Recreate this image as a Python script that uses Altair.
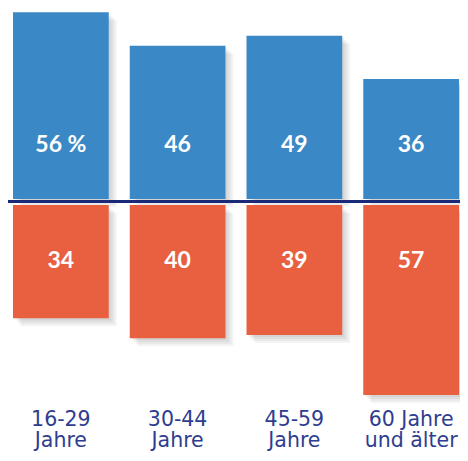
import altair as alt
import pandas as pd

categories = ["16-29\nJahre", "30-44\nJahre", "45-59\nJahre", "60 Jahre\nund älter"]
upper_values = [56, 46, 49, 36]
lower_values = [34, 40, 39, 57]

BLUE = "#3a89c6"
ORANGE = "#e8603f"
NAVY = "#1b2a78"
LABEL = "#2e3d8f"

rows = []
for i, (c, u, l) in enumerate(zip(categories, upper_values, lower_values)):
    rows.append({"cat": c, "grp": "upper", "value": u,
                 "label": f"{u} %" if i == 0 else f"{u}"})
    rows.append({"cat": c, "grp": "lower", "value": l, "label": f"{l}"})
df = pd.DataFrame(rows)
cat_df = pd.DataFrame({"cat": categories})

W, H = 452, 445
GAP = 1.8

base = alt.Chart(df).transform_calculate(
    y0=f"datum.grp == 'upper' ? 0 : -{GAP}",
    y1=f"datum.grp == 'upper' ? datum.value : -(datum.value + {GAP})",
    ty="datum.grp == 'upper' ? 16.2 : -18.6",
)

xenc = alt.X(
    "cat:N", sort=categories,
    scale=alt.Scale(paddingInner=0.18, paddingOuter=0.0257, align=0.833),
    axis=None,
)
yscale = alt.Scale(domain=[-76.2, 57.3], nice=False, zero=False)

layers = []
for k in [2, 4, 6, 8]:
    layers.append(
        base.mark_bar(color="black", opacity=0.045, xOffset=k, yOffset=k,
                      x2Offset=k, y2Offset=k).encode(
            x=xenc, y=alt.Y("y0:Q", scale=yscale, axis=None), y2="y1:Q"
        )
    )

bars = base.mark_bar().encode(
    x=xenc,
    y=alt.Y("y0:Q", scale=yscale, axis=None),
    y2="y1:Q",
    color=alt.Color("grp:N", scale=alt.Scale(domain=["upper", "lower"], range=[BLUE, ORANGE]), legend=None),
)

texts = base.mark_text(font="Lato", fontWeight="bold", fontSize=23, color="white",
                       baseline="middle", align="center").encode(
    x=xenc,
    y=alt.Y("ty:Q", scale=yscale, axis=None),
    text="label:N",
)

rule = alt.Chart(pd.DataFrame({"y": [-0.75]})).mark_rule(color=NAVY, strokeWidth=3).encode(
    y=alt.Y("y:Q", scale=yscale, axis=None),
    x=alt.value(0),
    x2=alt.value(W),
)

cat_labels = alt.Chart(cat_df).mark_text(
    font="DejaVu Sans", fontSize=20.5, color=LABEL, lineBreak="\n", lineHeight=21,
    baseline="alphabetic", align="center",
).encode(
    x=xenc,
    y=alt.Y("ly:Q", scale=yscale, axis=None),
    text="cat:N",
).transform_calculate(ly="-68.0")

chart = alt.layer(*layers, bars, rule, texts, cat_labels).properties(
    width=W, height=H, padding=0, autosize=alt.AutoSizeParams(type="none")
).configure_view(stroke=None)

chart.save("out.html", embed_options={"renderer": "svg", "actions": False})
